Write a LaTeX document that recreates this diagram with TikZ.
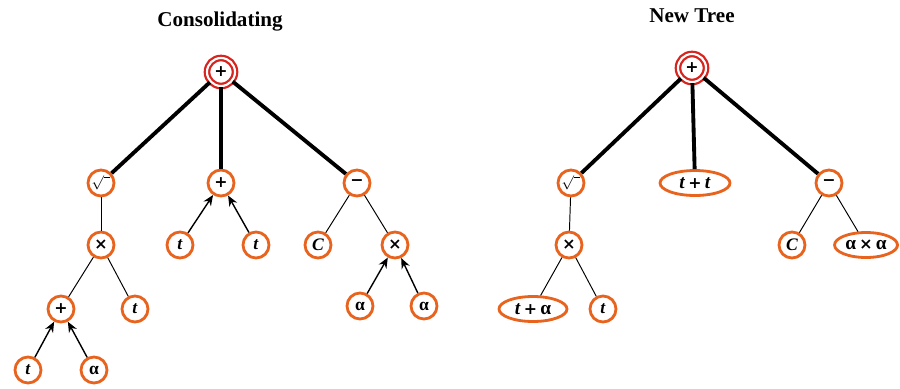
\documentclass[tikz,border=0pt]{standalone}
\usepackage{fontspec}
\setmainfont{Liberation Serif}
\newfontfamily\opfont{DejaVu Sans}
\usetikzlibrary{shapes.geometric,shadows,arrows.meta}
\definecolor{nodeorange}{HTML}{E8641E}
\definecolor{rootred}{HTML}{D8241E}
\tikzset{
  tnode/.style={circle, draw=nodeorange, line width=1.6pt, fill=white, minimum size=0.52cm, inner sep=0pt,
    font=\fontsize{10}{11}\selectfont\bfseries,
    drop shadow={shadow xshift=0.6pt, shadow yshift=-0.6pt, opacity=0.35, fill=nodeorange}},
  enode/.style={tnode, ellipse, minimum width=1.3cm, minimum height=0.5cm, font=\fontsize{11}{12}\selectfont\bfseries},
  rootnode/.style={circle, draw=rootred, line width=1.3pt, double=white, double distance=1.2pt, fill=white,
    minimum size=0.56cm, inner sep=0pt, font=\fontsize{12}{13}\selectfont\bfseries,
    drop shadow={shadow xshift=0pt, shadow yshift=0pt, shadow scale=1.15, opacity=0.3, fill=rootred}},
  thick edge/.style={line width=2.2pt, black},
  thin edge/.style={line width=0.55pt, black},
  arr edge/.style={line width=0.8pt, black, -{Stealth[length=6pt,width=5pt]}},
  title/.style={font=\fontsize{12}{14}\selectfont\bfseries}
}
\newcommand{\sqsym}{{\fontsize{8}{9}\selectfont$\surd$\rule[1.45ex]{0.45em}{0.35pt}}}
\newcommand{\opsym}[1]{{\opfont\bfseries\fontsize{9}{10}\selectfont #1}}
\begin{document}
\begin{tikzpicture}[x=0.02cm,y=-0.02cm]
\useasboundingbox (0,0) rectangle (900,389);
% titles
\node[title] (T1) at (220,22) {Consolidating};
\node[title] (T2) at (692,16) {New Tree};
% left tree
\node[rootnode] (L0) at (221,72) {\opsym{+}};
\node[tnode] (Lsq) at (101,183) {\sqsym};
\node[tnode] (Lp) at (221,183) {\opsym{+}};
\node[tnode] (Lm) at (357,183) {\opsym{−}};
\node[tnode] (Lx) at (101,245) {\opsym{×}};
\node[tnode] (Lt1) at (180,245) {\textit{t}};
\node[tnode] (Lt2) at (256,245) {\textit{t}};
\node[tnode] (LC) at (318,245) {\textit{C}};
\node[tnode] (Lx2) at (395,245) {\opsym{×}};
\node[tnode] (Lp2) at (61,309) {\opsym{+}};
\node[tnode] (Lt3) at (135,309) {\textit{t}};
\node[tnode] (La1) at (360,306) {α};
\node[tnode] (La2) at (424,306) {α};
\node[tnode] (Lt4) at (28,370) {\textit{t}};
\node[tnode] (La3) at (94,370) {α};
\draw[thick edge] (L0) -- (Lsq);
\draw[thick edge] (L0) -- (Lp);
\draw[thick edge] (L0) -- (Lm);
\draw[thin edge] (Lsq) -- (Lx);
\draw[thin edge] (Lx) -- (Lp2);
\draw[thin edge] (Lx) -- (Lt3);
\draw[thin edge] (Lm) -- (LC);
\draw[thin edge] (Lm) -- (Lx2);
\draw[arr edge] (Lt1) -- (Lp);
\draw[arr edge] (Lt2) -- (Lp);
\draw[arr edge] (La1) -- (Lx2);
\draw[arr edge] (La2) -- (Lx2);
\draw[arr edge] (Lt4) -- (Lp2);
\draw[arr edge] (La3) -- (Lp2);
% right tree
\node[rootnode] (R0) at (692,68) {\opsym{+}};
\node[tnode] (Rsq) at (571,183) {\sqsym};
\node[enode, minimum width=1.4cm] (Rtt) at (695,183) {\textit{t}\,\opsym{+}\,\textit{t}};
\node[tnode] (Rm) at (829,183) {\opsym{−}};
\node[tnode] (Rx) at (569,245) {\opsym{×}};
\node[tnode] (RC) at (792,245) {\textit{C}};
\node[enode, minimum width=1.26cm] (Raa) at (866,245) {α\,\opsym{×}\,α};
\node[enode, minimum width=1.36cm] (Rta) at (533,309) {\textit{t}\,\opsym{+}\,α};
\node[tnode] (Rt) at (603,309) {\textit{t}};
\draw[thick edge] (R0) -- (Rsq);
\draw[thick edge] (R0) -- (Rtt);
\draw[thick edge] (R0) -- (Rm);
\draw[thin edge] (Rsq) -- (Rx);
\draw[thin edge] (Rx) -- (Rta);
\draw[thin edge] (Rx) -- (Rt);
\draw[thin edge] (Rm) -- (RC);
\draw[thin edge] (Rm) -- (Raa);
\end{tikzpicture}
\end{document}
